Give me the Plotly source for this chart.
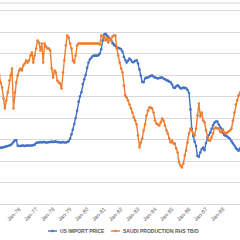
import pandas as pd
import plotly.graph_objects as go

# ---- data (monthly, Oct-1974 .. Feb-1989) ----
# US import price, $/bbl (left axis)
us_1974 = [13.0, 13.1, 13.1]  # Oct-Dec
us_1975 = [13.1, 13.2, 13.3, 13.4, 13.5, 13.6, 13.7, 14.0, 14.4, 14.8, 14.8, 13.6]
us_1976 = [13.5, 13.5, 13.6, 13.6, 13.5, 13.6, 13.6, 13.6, 13.6, 13.6, 13.7, 13.8]
us_1977 = [14.2, 14.3, 14.3, 14.4, 14.3, 14.4, 14.4, 14.3, 14.3, 14.4, 14.4, 14.5]
us_1978 = [14.4, 14.5, 14.5, 14.4, 14.4, 14.3, 14.3, 14.4, 14.3, 14.3, 14.4, 14.6]
us_1979 = [15.2, 16.2, 17.3, 18.6, 20.0, 21.7, 23.8, 25.0, 26.0, 27.9, 29.0, 30.0]
us_1980 = [31.7, 32.9, 33.6, 34.0, 34.4, 34.5, 34.5, 34.5, 34.6, 35.0, 36.0, 38.0]
us_1981 = [39.4, 39.6, 39.2, 38.9, 38.5, 38.0, 37.4, 37.0, 36.8, 36.4, 36.3, 36.2]
us_1982 = [36.0, 35.4, 34.2, 33.5, 32.9, 33.3, 33.8, 33.5, 33.0, 33.0, 33.3, 33.4]
us_1983 = [32.7, 31.3, 29.9, 28.4, 28.3, 29.2, 29.4, 29.4, 29.6, 29.8, 29.9, 29.6]
us_1984 = [29.4, 29.3, 29.2, 29.3, 29.4, 29.4, 29.2, 29.0, 28.8, 28.7, 28.5, 28.3]
us_1985 = [27.8, 27.1, 27.0, 27.4, 27.6, 27.3, 26.9, 26.9, 27.1, 27.0, 26.9, 26.5]
us_1986 = [25.8, 22.0, 17.5, 15.8, 14.5, 13.5, 11.2, 11.0, 12.0, 12.8, 13.1, 12.5]
us_1987 = [14.2, 15.4, 16.0, 16.6, 17.5, 18.3, 18.9, 19.2, 19.2, 18.5, 17.9, 17.5]
us_1988 = [16.5, 16.0, 15.9, 15.7, 15.4, 15.1, 14.6, 14.1, 13.6, 13.0, 12.7, 12.4]
us_1989 = [12.9, 13.5]  # Jan-Feb

# Saudi production, thousand b/d (right axis)
sa_1974 = [8150, 7970, 7530]
sa_1975 = [7220, 6540, 5920, 6420, 6910, 7660, 7970, 8400, 5920, 6910, 7530, 7970]
sa_1976 = [8280, 8400, 8280, 8590, 8710, 8900, 8770, 8900, 9210, 9390, 8770, 9210]
sa_1977 = [9640, 10140, 10010, 9520, 9950, 8770, 9950, 9770, 9640, 9640, 9520, 8400]
sa_1978 = [7840, 8280, 8150, 7660, 7530, 7470, 7160, 8150, 8900, 9830, 10450, 10320]
sa_1979 = [9950, 9640, 8900, 8770, 9210, 9830, 9950, 9950, 9950, 9950, 9950, 9950]
sa_1980 = [9950, 9950, 9950, 9950, 9950, 9950, 9950, 9950, 9950, 9890, 10450, 10390]
sa_1981 = [10390, 10140, 10320, 10010, 10260, 10140, 10390, 10450, 10450, 9640, 9210, 8770]
sa_1982 = [8400, 8150, 7350, 6730, 6600, 6420, 6170, 5920, 5670, 5360, 5180, 4930]
sa_1983 = [4250, 3500, 3810, 4060, 4560, 4930, 5490, 5800, 5980, 5980, 5920, 5670]
sa_1984 = [5180, 4990, 4930, 4870, 5050, 5300, 5180, 4870, 4560, 4370, 4060, 3810]
sa_1985 = [3940, 3750, 3750, 3440, 3190, 2570, 2390, 2260, 2510, 3010, 3320, 3810]
sa_1986 = [4370, 4680, 4560, 4370, 4250, 4680, 5490, 6230, 5430, 5670, 5180, 5050]
sa_1987 = [4560, 4190, 3940, 3940, 4120, 4370, 4680, 4740, 4680, 4680, 4500, 4430]
sa_1988 = [4620, 4430, 4370, 4430, 4500, 4560, 4680, 5180, 5670, 6170, 6420, 6730]
sa_1989 = [6910, 7040]

us_price = (us_1974 + us_1975 + us_1976 + us_1977 + us_1978 + us_1979 + us_1980 +
            us_1981 + us_1982 + us_1983 + us_1984 + us_1985 + us_1986 + us_1987 +
            us_1988 + us_1989)
saudi = (sa_1974 + sa_1975 + sa_1976 + sa_1977 + sa_1978 + sa_1979 + sa_1980 +
         sa_1981 + sa_1982 + sa_1983 + sa_1984 + sa_1985 + sa_1986 + sa_1987 +
         sa_1988 + sa_1989)
months = pd.date_range("1974-10-01", periods=len(us_price), freq="MS")

BLUE = "#4472C4"
ORANGE = "#ED7D31"
GRID = "#D9D9D9"
TXT = "#595959"
FONT = "Liberation Sans"

fig = go.Figure()
fig.add_trace(go.Scatter(
    x=months, y=us_price, mode="lines+markers", name="US IMPORT PRICE",
    line=dict(color=BLUE, width=1.4), marker=dict(size=2.6, color=BLUE),
    yaxis="y", showlegend=False))
fig.add_trace(go.Scatter(
    x=months, y=saudi, mode="lines+markers", name="SAUDI PRODUCTION RHS TB/D",
    line=dict(color=ORANGE, width=1.4), marker=dict(size=2.6, color=ORANGE),
    yaxis="y2", showlegend=False))

PLOT_H = 204
fig.update_layout(
    width=240, height=240,
    margin=dict(l=0, r=0, t=0, b=240 - PLOT_H, pad=0),
    paper_bgcolor="white", plot_bgcolor="white",
    font=dict(family=FONT, color=TXT, size=5),
    xaxis=dict(type="date", range=["1974-11-16", "1989-01-01"],
               showgrid=False, zeroline=False, showline=False,
               tickformat="%b-%y", dtick="M12", tick0="1975-01-01",
               tickangle=-45, ticks="", tickfont=dict(size=5.5, color=TXT, family=FONT)),
    yaxis=dict(range=[0, 45 * PLOT_H / 193.5], dtick=5, showgrid=True,
               gridcolor=GRID, gridwidth=1, zeroline=True, zerolinecolor=GRID,
               zerolinewidth=1, showticklabels=False, ticks=""),
    yaxis2=dict(range=[0, 12000 * PLOT_H / 193.5], overlaying="y", side="right",
                showgrid=False, zeroline=False, showticklabels=False, ticks=""),
)

# top border line
fig.add_shape(type="line", xref="paper", yref="paper", x0=0, x1=1,
              y0=(PLOT_H - 3) / PLOT_H, y1=(PLOT_H - 3) / PLOT_H,
              line=dict(color=GRID, width=1))

# manual legend
ly = (PLOT_H - 231) / PLOT_H
legend_items = [("US IMPORT PRICE", BLUE, 48, 58), ("SAUDI PRODUCTION RHS TB/D", ORANGE, 111, 121)]
for label, col, sx, tx in legend_items:
    fig.add_shape(type="line", xref="paper", yref="paper",
                  x0=sx / 240, x1=(sx + 9) / 240, y0=ly, y1=ly,
                  line=dict(color=col, width=1.4))
    fig.add_shape(type="circle", xref="paper", yref="paper",
                  x0=(sx + 3.5) / 240, x1=(sx + 5.5) / 240,
                  y0=ly - 1 / PLOT_H, y1=ly + 1 / PLOT_H,
                  line=dict(color=col, width=0.5), fillcolor=col)
    fig.add_annotation(text="<b>" + label + "</b>", xref="paper", yref="paper",
                       x=tx / 240, y=ly, xanchor="left", yanchor="middle",
                       showarrow=False, font=dict(size=5, color=TXT, family=FONT))

fig.write_html("out.html")
